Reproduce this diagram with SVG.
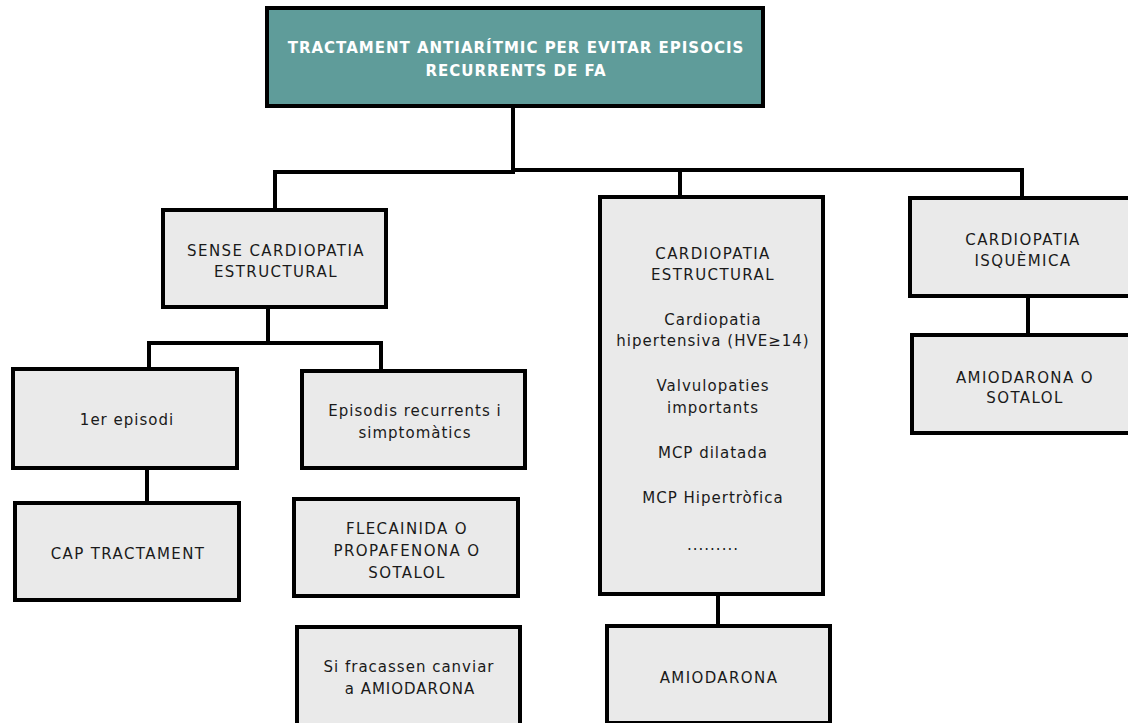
<svg xmlns="http://www.w3.org/2000/svg" width="1128" height="723" viewBox="0 0 1128 723">
<style>
.box{fill:#EAEAEA;stroke:#000;stroke-width:4}
.title{fill:#5F9C9A;stroke:#000;stroke-width:4}
.t{font-family:"DejaVu Sans",Verdana,sans-serif;font-size:15px;letter-spacing:1px;fill:#1a1a1a;text-anchor:middle}
.u{letter-spacing:1.4px}
.tw{font-family:"DejaVu Sans",Verdana,sans-serif;font-size:15px;font-weight:bold;letter-spacing:1px;fill:#fff;text-anchor:middle}
.c{stroke:#000;stroke-width:4;fill:none;stroke-linecap:square}
</style>
<rect width="1128" height="723" fill="#fff"/>
<g id="connectors">
<path class="c" d="M513,106 V168"/>
<path class="c" d="M275,172 H513"/>
<path class="c" d="M513,170 H1022"/>
<path class="c" d="M275,172 V208"/>
<path class="c" d="M680,170 V195"/>
<path class="c" d="M1022,170 V196"/>
<path class="c" d="M268,307 V343"/>
<path class="c" d="M149,343 H381"/>
<path class="c" d="M149,343 V367"/>
<path class="c" d="M381,343 V369"/>
<path class="c" d="M147,468 V500"/>
<path class="c" d="M718,595 V624"/>
<path class="c" d="M1028,297 V333"/>
</g>
<g id="n-title">
<rect class="title" x="267" y="8" width="496" height="98"/>
<text class="tw" x="516" y="53">TRACTAMENT ANTIARÍTMIC PER EVITAR EPISOCIS</text>
<text class="tw" x="516" y="76">RECURRENTS DE FA</text>
</g>
<g id="n-sense">
<rect class="box" x="163" y="210" width="223" height="97"/>
<text class="t u" x="276" y="256">SENSE CARDIOPATIA</text>
<text class="t u" x="276" y="277">ESTRUCTURAL</text>
</g>
<g id="n-1er">
<rect class="box" x="13" y="369" width="224" height="99"/>
<text class="t" x="127" y="425">1er episodi</text>
</g>
<g id="n-recurrents">
<rect class="box" x="302" y="371" width="223" height="97"/>
<text class="t" x="415" y="416">Episodis recurrents i</text>
<text class="t" x="415" y="438">simptomàtics</text>
</g>
<g id="n-cap">
<rect class="box" x="15" y="503" width="224" height="97"/>
<text class="t u" x="128" y="559">CAP TRACTAMENT</text>
</g>
<g id="n-flecainida">
<rect class="box" x="294" y="499" width="224" height="97"/>
<text class="t u" x="407" y="534">FLECAINIDA O</text>
<text class="t u" x="407" y="556">PROPAFENONA O</text>
<text class="t u" x="407" y="578">SOTALOL</text>
</g>
<g id="n-fracassen">
<rect class="box" x="297" y="627" width="223" height="100"/>
<text class="t" x="409" y="672">Si fracassen canviar</text>
<text class="t" x="410" y="694" letter-spacing="1.3">a AMIODARONA</text>
</g>
<g id="n-estructural">
<rect class="box" x="600" y="197" width="223" height="397"/>
<text class="t u" x="713" y="259">CARDIOPATIA</text>
<text class="t u" x="713" y="280">ESTRUCTURAL</text>
<text class="t" x="713" y="325">Cardiopatia</text>
<text class="t" x="713" y="346">hipertensiva (HVE≥14)</text>
<text class="t" x="713" y="391">Valvulopaties</text>
<text class="t" x="713" y="413">importants</text>
<text class="t" x="713" y="458">MCP dilatada</text>
<text class="t" x="713" y="503">MCP Hipertròfica</text>
<text class="t" x="713" y="550">.........</text>
</g>
<g id="n-amiodarona">
<rect class="box" x="607" y="626" width="223" height="97"/>
<text class="t u" x="719" y="683">AMIODARONA</text>
</g>
<g id="n-isquemica">
<rect class="box" x="910" y="198" width="224" height="98"/>
<text class="t u" x="1023" y="245">CARDIOPATIA</text>
<text class="t u" x="1023" y="266">ISQUÈMICA</text>
</g>
<g id="n-amio-sotalol">
<rect class="box" x="912" y="335" width="224" height="98"/>
<text class="t u" x="1025" y="383">AMIODARONA O</text>
<text class="t u" x="1025" y="403">SOTALOL</text>
</g>
</svg>
